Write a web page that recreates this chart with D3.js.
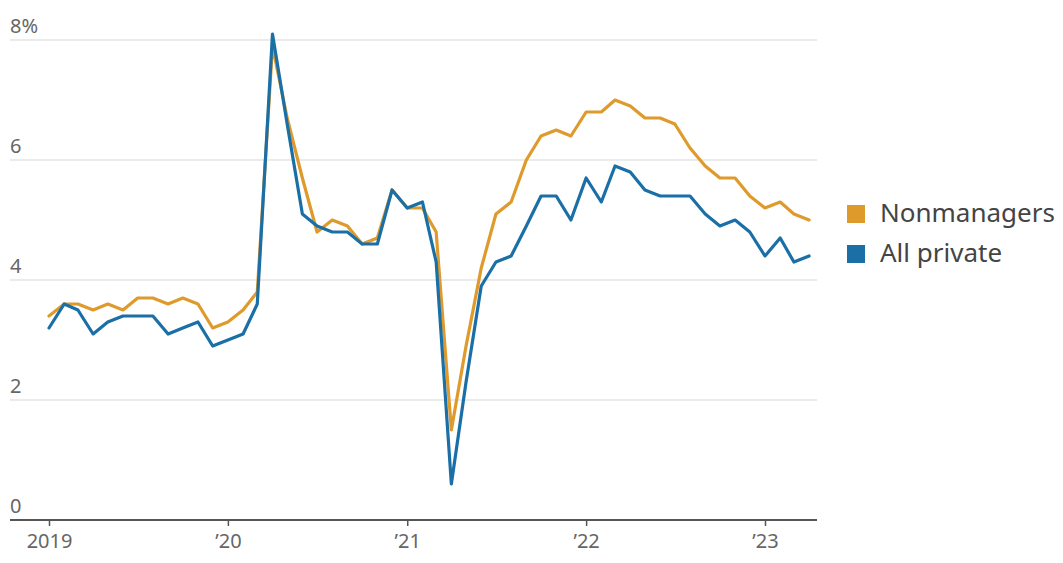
<!DOCTYPE html>
<html>
<head>
<meta charset="utf-8">
<script src="https://cdn.jsdelivr.net/npm/d3@7"></script>
<style>
  html, body { margin: 0; padding: 0; background: #fff; }
  svg { display: block; font-family: "Noto Sans", "DejaVu Sans", sans-serif; }
</style>
</head>
<body>
<svg id="chart" width="1063" height="563"></svg>
<script>
// Monthly series, Jan 2019 – Apr 2023 (percent)
const months = d3.timeMonth.range(new Date(2019, 0, 1), new Date(2023, 4, 1));

const nonmanagers = [
  3.4, 3.6, 3.6, 3.5, 3.6, 3.5, 3.7, 3.7, 3.6, 3.7, 3.6, 3.2,
  3.3, 3.5, 3.8, 7.9, 6.7, 5.7, 4.8, 5.0, 4.9, 4.6, 4.7, 5.5,
  5.2, 5.2, 4.8, 1.5, 2.9, 4.2, 5.1, 5.3, 6.0, 6.4, 6.5, 6.4,
  6.8, 6.8, 7.0, 6.9, 6.7, 6.7, 6.6, 6.2, 5.9, 5.7, 5.7, 5.4,
  5.2, 5.3, 5.1, 5.0
];

const allPrivate = [
  3.2, 3.6, 3.5, 3.1, 3.3, 3.4, 3.4, 3.4, 3.1, 3.2, 3.3, 2.9,
  3.0, 3.1, 3.6, 8.1, 6.6, 5.1, 4.9, 4.8, 4.8, 4.6, 4.6, 5.5,
  5.2, 5.3, 4.3, 0.6, 2.3, 3.9, 4.3, 4.4, 4.9, 5.4, 5.4, 5.0,
  5.7, 5.3, 5.9, 5.8, 5.5, 5.4, 5.4, 5.4, 5.1, 4.9, 5.0, 4.8,
  4.4, 4.7, 4.3, 4.4
];

const yTicks = [0, 2, 4, 6, 8];
const yTickLabels = ["0", "2", "4", "6", "8%"];
const xTickYears = [2019, 2020, 2021, 2022, 2023];
const xTickLabels = ["2019", "’20", "’21", "’22", "’23"];

const seriesNames = ["Nonmanagers", "All private"];
const seriesColors = ["#df9a2c", "#1a6fa6"];

const svg = d3.select("#chart");

const plotLeft = 10, plotRight = 817;

const x = d3.scaleTime()
  .domain([new Date(2019, 0, 1), new Date(2023, 0, 1)])
  .range([49, 765]);

const y = d3.scaleLinear()
  .domain([0, 8])
  .range([520, 40]);

// Horizontal gridlines
svg.append("g")
  .selectAll("line")
  .data(yTicks.filter(d => d !== 0))
  .join("line")
  .attr("x1", plotLeft)
  .attr("x2", plotRight)
  .attr("y1", d => y(d))
  .attr("y2", d => y(d))
  .attr("stroke", "#e4e4e4")
  .attr("stroke-width", 1.5);

// Y tick labels, sitting just above each gridline
svg.append("g")
  .selectAll("text")
  .data(yTicks)
  .join("text")
  .attr("x", plotLeft)
  .attr("y", d => y(d) - 7)
  .attr("fill", "#666")
  .attr("font-size", 20)
  .text((d, i) => yTickLabels[i]);

// Lines
const line = d3.line()
  .x((d, i) => x(months[i]))
  .y(d => y(d));

[nonmanagers, allPrivate].forEach((vals, k) => {
  svg.append("path")
    .datum(vals)
    .attr("fill", "none")
    .attr("stroke", seriesColors[k])
    .attr("stroke-width", 3.2)
    .attr("stroke-linejoin", "round")
    .attr("stroke-linecap", "round")
    .attr("d", line);
});

// X axis baseline
svg.append("line")
  .attr("x1", plotLeft)
  .attr("x2", plotRight)
  .attr("y1", y(0))
  .attr("y2", y(0))
  .attr("stroke", "#555")
  .attr("stroke-width", 2);

const xAxis = d3.axisBottom(x)
  .tickValues(xTickYears.map(yr => new Date(yr, 0, 1)))
  .tickSize(6)
  .tickPadding(8)
  .tickFormat((d, i) => xTickLabels[i]);

const gx = svg.append("g")
  .attr("transform", `translate(0,${y(0)})`)
  .call(xAxis);
gx.select(".domain").remove();
gx.selectAll(".tick line").attr("stroke", "#555").attr("stroke-width", 1.5);
gx.selectAll(".tick text")
  .attr("fill", "#666")
  .attr("font-size", 20)
  .attr("font-family", "\"Noto Sans\", sans-serif");

// Legend
const legend = svg.append("g").attr("transform", "translate(847,205)");
seriesNames.forEach((name, i) => {
  const g = legend.append("g").attr("transform", `translate(0,${i * 40})`);
  g.append("rect")
    .attr("width", 18)
    .attr("height", 18)
    .attr("fill", seriesColors[i]);
  g.append("text")
    .attr("x", 33)
    .attr("y", 17)
    .attr("fill", "#444")
    .attr("font-size", 26)
    .text(name);
});
</script>
</body>
</html>
